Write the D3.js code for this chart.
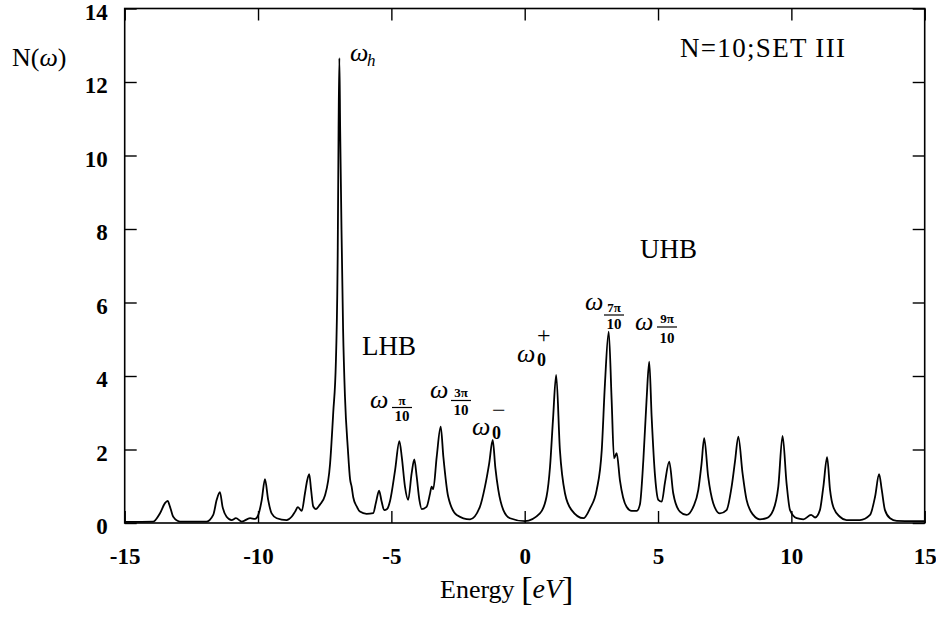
<!DOCTYPE html>
<html>
<head>
<meta charset="utf-8">
<script src="https://cdn.jsdelivr.net/npm/d3@7"></script>
<style>
  html, body { margin: 0; padding: 0; background: #fff; }
  svg text { fill: #000; }
</style>
</head>
<body>
<div id="chart"></div>
<script>
// spectral density N(w), energy in eV
const energy = [
  -15.00, -13.93, -13.68, -13.49, -13.39, -13.30, -13.18, -12.93,
  -11.93, -11.68, -11.55, -11.43, -11.33, -11.18, -10.99, -10.83, -10.61, -10.30, -10.11,
  -9.99, -9.86, -9.74, -9.62, -9.49, -9.30, -8.93, -8.74, -8.61, -8.51, -8.36,
  -8.24, -8.16, -8.08, -8.01, -7.93, -7.83, -7.68, -7.49, -7.30, -7.18, -7.08,
  -7.01, -6.98, -6.95, -6.92, -6.87, -6.81, -6.74, -6.63, -6.55, -6.49, -6.43,
  -6.30, -6.18, -5.93, -5.68, -5.58, -5.46, -5.37, -5.27, -5.16, -5.05,
  -4.86, -4.70, -4.61, -4.49, -4.37, -4.24, -4.14, -4.05, -3.95, -3.86,
  -3.68, -3.55, -3.49, -3.43, -3.30, -3.15, -3.05, -2.87, -2.55, -2.05,
  -1.68, -1.49, -1.33, -1.20, -1.10, -0.99, -0.80, -0.55, 0.01,
  0.57, 0.82, 0.95, 1.06, 1.18, 1.32, 1.51, 1.76, 2.20,
  2.45, 2.70, 2.89, 3.01, 3.15, 3.26, 3.35, 3.45, 3.57, 3.82, 4.01, 4.20,
  4.32, 4.45, 4.57, 4.67, 4.76, 4.89, 5.01, 5.14, 5.26, 5.42, 5.57, 5.82, 6.07,
  6.32, 6.51, 6.63, 6.73, 6.88, 7.07, 7.32, 7.57, 7.76, 7.89, 8.01, 8.17, 8.32,
  8.57, 8.82, 9.07, 9.32, 9.51, 9.67, 9.82, 9.95, 10.20, 10.45, 10.74, 10.89,
  11.07, 11.20, 11.34, 11.45, 11.57, 11.82, 12.07, 12.57, 12.95, 13.14, 13.29,
  13.39, 13.51, 13.70, 13.95, 14.57, 15.00
];
const dos = [
  0.03, 0.04, 0.26, 0.54, 0.60, 0.44, 0.17, 0.04,
  0.04, 0.22, 0.63, 0.84, 0.44, 0.17, 0.08, 0.13, 0.04, 0.13, 0.11,
  0.22, 0.63, 1.19, 0.63, 0.26, 0.13, 0.08, 0.17, 0.31, 0.43, 0.33,
  0.81, 1.15, 1.33, 0.90, 0.45, 0.38, 0.50, 0.75, 1.60, 3.00, 4.40,
  7.50, 10.70, 12.65, 10.70, 7.98, 5.26, 3.44, 2.00, 1.20, 0.99, 0.70,
  0.45, 0.31, 0.25, 0.27, 0.55, 0.88, 0.60, 0.35, 0.38, 0.60,
  1.44, 2.23, 1.80, 0.99, 0.63, 1.35, 1.73, 1.26, 0.63, 0.38,
  0.44, 0.80, 0.99, 0.92, 1.80, 2.62, 1.80, 0.72, 0.22, 0.10,
  0.44, 0.99, 1.63, 2.26, 1.50, 0.90, 0.35, 0.13, 0.05,
  0.26, 0.72, 1.53, 2.80, 4.03, 1.99, 0.81, 0.35, 0.13,
  0.40, 0.90, 1.99, 3.80, 5.21, 3.35, 1.76, 1.90, 1.17, 0.44, 0.33, 0.33,
  0.50, 1.72, 3.35, 4.39, 2.90, 1.26, 0.63, 0.58, 1.10, 1.67, 0.81, 0.31, 0.22,
  0.44, 0.90, 1.60, 2.31, 1.26, 0.54, 0.26, 0.35, 0.99, 1.70, 2.35, 1.35, 0.63,
  0.22, 0.10, 0.13, 0.35, 0.99, 2.37, 1.08, 0.35, 0.13, 0.10, 0.22, 0.15,
  0.35, 0.99, 1.79, 0.90, 0.44, 0.17, 0.08, 0.08, 0.22, 0.72, 1.33,
  0.90, 0.35, 0.13, 0.06, 0.05, 0.05
];
const xTicks = [-15, -10, -5, 0, 5, 10, 15];
const yTicks = [0, 2, 4, 6, 8, 10, 12, 14];

(() => {
  const width = 936, height = 622;
  const margin = { top: 8.5, right: 11.3, bottom: 99, left: 124.7 };
  const w = width - margin.left - margin.right;
  const h = height - margin.top - margin.bottom;
  const serif = "'Liberation Serif', 'Times New Roman', serif";

  const svg = d3.select("#chart").append("svg")
    .attr("width", width).attr("height", height)
    .style("background", "#fff");
  const g = svg.append("g").attr("transform", `translate(${margin.left},${margin.top})`);

  const x = d3.scaleLinear().domain([-15, 15]).range([0, w]);
  const y = d3.scaleLinear().domain([0, 14]).range([h, 0]);

  const fmt = d => (d < 0 ? "-" + Math.abs(d) : String(d));
  const styleAxis = sel => {
    sel.select(".domain").remove();
    sel.selectAll("line").attr("stroke", "#000").attr("stroke-width", 1.4);
    sel.selectAll("text")
      .style("font-family", serif).style("font-size", "23px").style("font-weight", "bold")
      .attr("fill", "#000");
  };

  // ticks point inward on all four sides
  g.append("g").attr("transform", `translate(0,${h})`)
    .call(d3.axisBottom(x).tickValues(xTicks).tickSize(-12).tickPadding(25).tickFormat(fmt))
    .call(styleAxis);
  g.append("g")
    .call(d3.axisLeft(y).tickValues(yTicks).tickSize(-12).tickPadding(17).tickFormat(fmt))
    .call(styleAxis)
    .call(a => a.selectAll("text").attr("dy", "0.46em"));
  g.append("g")
    .call(d3.axisTop(x).tickValues(xTicks).tickSize(-12).tickFormat(""))
    .call(styleAxis);
  g.append("g").attr("transform", `translate(${w},0)`)
    .call(d3.axisRight(y).tickValues(yTicks).tickSize(-12).tickFormat(""))
    .call(styleAxis);

  g.append("rect")
    .attr("width", w).attr("height", h)
    .attr("fill", "none").attr("stroke", "#000").attr("stroke-width", 1.6);

  const line = d3.line()
    .x(d => x(d[0]))
    .y(d => y(d[1]))
    .curve(d3.curveMonotoneX);

  g.append("path")
    .datum(d3.zip(energy, dos))
    .attr("d", line)
    .attr("fill", "none")
    .attr("stroke", "#000")
    .attr("stroke-width", 1.8)
    .attr("stroke-linejoin", "round");

  // ----- text -----
  const txt = (px, py, size, opts = {}) => svg.append("text")
    .attr("x", px).attr("y", py)
    .attr("text-anchor", opts.anchor || "start")
    .style("font-family", serif)
    .style("font-size", size + "px")
    .style("font-style", opts.italic ? "italic" : "normal")
    .style("font-weight", opts.bold ? "bold" : "normal");

  const yl = txt(12, 66, 26);
  yl.append("tspan").text("N(");
  yl.append("tspan").style("font-style", "italic").text("ω");
  yl.append("tspan").text(")");

  const xl = txt(440, 598, 26);
  xl.append("tspan").text("Energy ");
  xl.append("tspan").style("font-size", "34px").attr("dy", 2).text("[");
  xl.append("tspan").style("font-size", "28px").style("font-style", "italic").attr("dy", -2).text("eV");
  xl.append("tspan").style("font-size", "34px").attr("dy", 2).text("]");

  txt(680, 57, 27).attr("textLength", 165).attr("lengthAdjust", "spacing").text("N=10;SET III");
  txt(362, 355, 27).text("LHB");
  txt(640, 258, 27).text("UHB");

  // omega_h
  txt(350, 61, 26, { italic: true }).text("ω");
  txt(367, 66, 17, { italic: true }).text("h");

  // omega with fraction subscript
  const fracOmega = (ox, oy, cx, numY, barY, denY, num) => {
    txt(ox, oy, 26, { italic: true }).text("ω");
    txt(cx, numY, 13, { bold: true, anchor: "middle" }).text(num);
    svg.append("line")
      .attr("x1", cx - 10).attr("x2", cx + 10)
      .attr("y1", barY).attr("y2", barY)
      .attr("stroke", "#000").attr("stroke-width", 1.2);
    txt(cx, denY, 15, { bold: true, anchor: "middle" }).text("10");
  };
  fracOmega(370, 408, 402, 405, 407.5, 421, "π");
  fracOmega(430, 398, 461, 397, 400.5, 415, "3π");
  fracOmega(585, 310, 614, 312, 315, 329, "7π");
  fracOmega(635, 330, 667, 323, 327, 343, "9π");

  // omega_0 minus / plus
  txt(472, 435, 26, { italic: true }).text("ω");
  txt(492, 439, 18, { bold: true }).text("0");
  txt(492, 418, 24).text("−");
  txt(517, 362, 26, { italic: true }).text("ω");
  txt(537, 366, 18, { bold: true }).text("0");
  txt(537, 343, 24).text("+");
})();
</script>
</body>
</html>
